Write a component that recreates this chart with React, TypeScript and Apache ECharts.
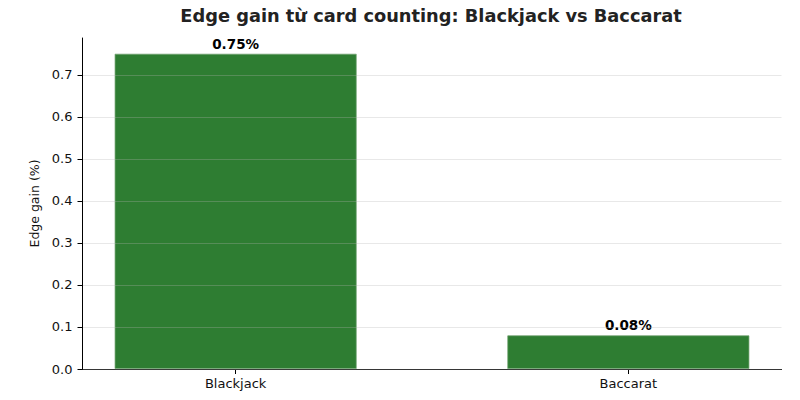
import React, { useEffect, useRef } from "react";
import * as echarts from "echarts";

const categories = ["Blackjack", "Baccarat"];
const edgeGain = [0.75, 0.08];
const yTicks = [0, 0.1, 0.2, 0.3, 0.4, 0.5, 0.6, 0.7];

export default function App() {
  const ref = useRef<HTMLDivElement>(null);
  useEffect(() => {
    document.body.style.margin = "0";
    if (!ref.current) return;
    const chart = echarts.init(ref.current, null, { renderer: "svg" });
    const font = "DejaVu Sans";
    chart.setOption({
      animation: false,
      title: {
        text: "Edge gain từ card counting: Blackjack vs Baccarat",
        left: 426,
        top: 1,
        textAlign: "center",
        textStyle: { fontFamily: font, fontSize: 17.8, fontWeight: "bold", color: "#222" },
      },
      grid: { left: 82.5, right: 18.5, top: 38, bottom: 31, containLabel: false },
      xAxis: {
        type: "value",
        min: -0.39,
        max: 1.39,
        splitLine: { show: false },
        axisLine: { show: true, onZero: false, lineStyle: { color: "#000", width: 1 } },
        axisTick: { show: true, customValues: [0, 1], length: 5, lineStyle: { color: "#000" } },
        axisLabel: {
          customValues: [0, 1],
          margin: 8,
          fontFamily: font,
          fontSize: 13,
          color: "#111",
          formatter: (v: number) => {
            const i = Math.round(v);
            return Math.abs(v - i) < 1e-6 && categories[i] ? categories[i] : "";
          },
        },
      },
      yAxis: {
        type: "value",
        min: 0,
        max: 0.7875,
        interval: 0.1,
        z: 3,
        name: "Edge gain (%)",
        nameLocation: "middle",
        nameGap: 38,
        nameTextStyle: { fontFamily: font, fontSize: 12.5, color: "#111" },
        axisLine: { show: true, onZero: false, lineStyle: { color: "#000", width: 1 } },
        axisTick: { show: true, length: 5, lineStyle: { color: "#000" }, customValues: yTicks },
        axisLabel: {
          margin: 10,
          fontFamily: font,
          fontSize: 13,
          color: "#111",
          customValues: yTicks,
          formatter: (v: number) => v.toFixed(1),
        },
        splitLine: { show: true, lineStyle: { color: "rgba(180,180,180,0.3)", width: 1 } },
      },
      series: [
        {
          type: "bar",
          data: edgeGain.map((v, i) => [i, v]),
          barWidth: 242,
          itemStyle: { color: "#2e7d32", borderColor: "rgba(110,160,110,0.9)", borderWidth: 0.8 },
          label: {
            show: true,
            position: "top",
            distance: 3,
            fontFamily: font,
            fontSize: 13.5,
            fontWeight: "bold",
            color: "#000",
            formatter: (p: any) => p.value[1].toFixed(2) + "%",
          },
        },
      ],
    });
    return () => chart.dispose();
  }, []);
  return <div ref={ref} style={{ width: 800, height: 400 }} />;
}
